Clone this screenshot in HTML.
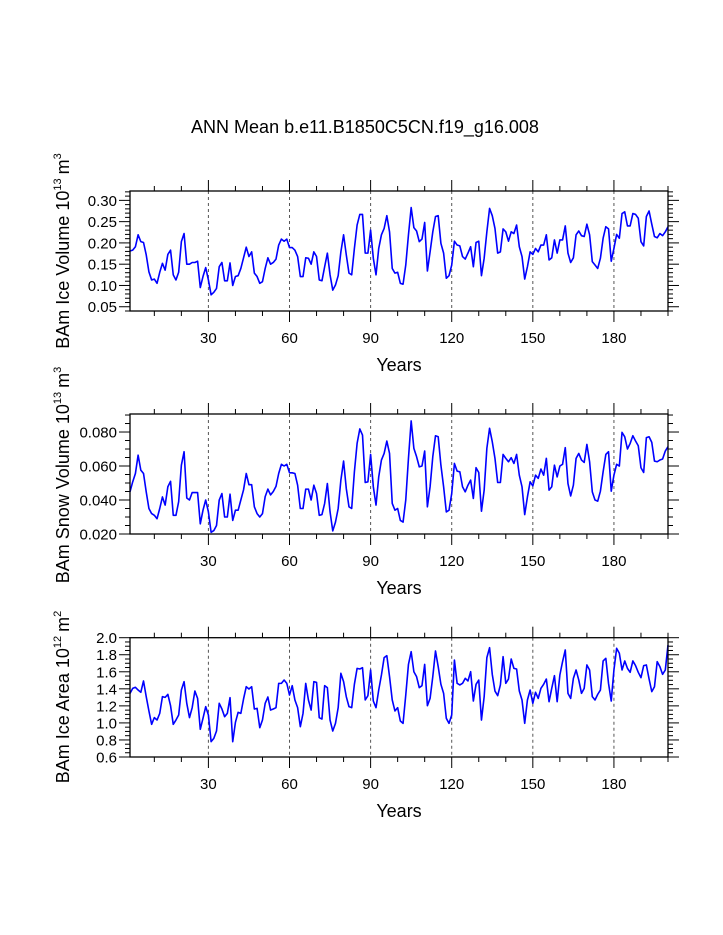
<!DOCTYPE html>
<html><head><meta charset="utf-8">
<style>
html,body{margin:0;padding:0;background:#fff;}
svg{display:block;font-family:"Liberation Sans",Arial,sans-serif;}
</style></head>
<body>
<svg id="chart" width="723" height="935" viewBox="0 0 723 935" xmlns="http://www.w3.org/2000/svg">
<text x="365" y="133" font-size="18" text-anchor="middle">ANN Mean b.e11.B1850C5CN.f19_g16.008</text>
</svg>
<script>
const years = Array.from({length:200},(_,i)=>i+1);
const xTickLabels = [30,60,90,120,150,180];
const iceVolume = [0.181,0.183,0.191,0.219,0.203,0.201,0.172,0.132,0.113,0.115,0.105,0.131,0.152,0.136,0.173,0.183,0.125,0.113,0.131,0.203,0.222,0.150,0.150,0.154,0.154,0.157,0.095,0.121,0.142,0.113,0.078,0.084,0.093,0.144,0.154,0.111,0.111,0.153,0.100,0.121,0.123,0.140,0.165,0.190,0.168,0.179,0.129,0.121,0.105,0.109,0.140,0.165,0.150,0.154,0.162,0.195,0.209,0.204,0.209,0.189,0.189,0.183,0.168,0.121,0.121,0.165,0.164,0.150,0.179,0.168,0.113,0.111,0.144,0.176,0.125,0.089,0.101,0.123,0.179,0.219,0.172,0.129,0.125,0.187,0.242,0.267,0.267,0.176,0.176,0.230,0.164,0.125,0.187,0.219,0.234,0.264,0.226,0.140,0.129,0.131,0.105,0.103,0.148,0.219,0.283,0.236,0.228,0.203,0.209,0.248,0.134,0.179,0.226,0.262,0.264,0.199,0.176,0.117,0.123,0.148,0.204,0.195,0.193,0.168,0.162,0.176,0.191,0.144,0.201,0.204,0.123,0.164,0.226,0.281,0.264,0.234,0.176,0.179,0.233,0.226,0.204,0.226,0.222,0.242,0.191,0.168,0.115,0.144,0.179,0.173,0.187,0.179,0.195,0.195,0.219,0.160,0.165,0.207,0.176,0.207,0.207,0.240,0.176,0.154,0.165,0.219,0.228,0.217,0.215,0.244,0.219,0.156,0.148,0.140,0.164,0.211,0.238,0.233,0.157,0.187,0.220,0.211,0.269,0.273,0.240,0.240,0.269,0.267,0.258,0.203,0.193,0.262,0.275,0.244,0.215,0.212,0.222,0.217,0.226,0.238];
const snowVolume = [0.0448,0.0507,0.0556,0.0664,0.0576,0.0556,0.0448,0.035,0.032,0.031,0.029,0.035,0.0418,0.037,0.0478,0.051,0.031,0.031,0.039,0.0605,0.0684,0.0412,0.040,0.0444,0.0444,0.0444,0.026,0.034,0.040,0.033,0.021,0.022,0.025,0.040,0.0438,0.030,0.030,0.0434,0.028,0.034,0.034,0.040,0.046,0.0556,0.049,0.049,0.036,0.032,0.030,0.032,0.042,0.0464,0.043,0.045,0.048,0.0556,0.061,0.060,0.061,0.056,0.056,0.0556,0.0487,0.035,0.035,0.0464,0.0464,0.040,0.0487,0.0438,0.031,0.0314,0.038,0.0497,0.033,0.0218,0.027,0.035,0.0517,0.0629,0.0468,0.036,0.035,0.0566,0.0733,0.0818,0.0782,0.0503,0.0507,0.0668,0.0478,0.037,0.0536,0.0635,0.0674,0.0747,0.0674,0.038,0.034,0.035,0.028,0.027,0.040,0.0645,0.0865,0.0704,0.0655,0.0595,0.060,0.0688,0.036,0.0478,0.0655,0.0778,0.0772,0.0605,0.0478,0.033,0.034,0.0438,0.0615,0.057,0.0566,0.0478,0.0448,0.0487,0.0517,0.0409,0.059,0.0562,0.0334,0.0458,0.0704,0.0822,0.0743,0.0645,0.0503,0.0503,0.0668,0.0645,0.0625,0.0649,0.0615,0.0668,0.0546,0.0478,0.0314,0.0418,0.0507,0.0483,0.0546,0.0527,0.0582,0.0546,0.0645,0.0458,0.0478,0.0605,0.0536,0.060,0.061,0.0708,0.0497,0.0424,0.0487,0.0645,0.0674,0.0635,0.0621,0.0727,0.0625,0.0448,0.040,0.0393,0.0452,0.0566,0.0668,0.0684,0.0452,0.0546,0.061,0.060,0.0798,0.0772,0.070,0.0733,0.0778,0.0747,0.0719,0.059,0.0562,0.0767,0.0772,0.0739,0.0629,0.0625,0.0635,0.0641,0.0688,0.0714];
const iceArea = [1.347,1.406,1.418,1.386,1.359,1.492,1.308,1.140,0.983,1.062,1.034,1.112,1.308,1.300,1.335,1.202,0.983,1.034,1.093,1.386,1.484,1.230,1.062,1.179,1.374,1.288,0.925,1.054,1.191,1.093,0.780,0.819,0.905,1.230,1.163,1.073,1.112,1.296,0.780,1.007,1.124,1.112,1.281,1.425,1.398,1.425,1.163,1.171,0.944,1.034,1.230,1.304,1.151,1.163,1.179,1.464,1.464,1.503,1.464,1.327,1.437,1.269,1.179,0.956,1.112,1.464,1.269,1.151,1.484,1.476,1.062,1.046,1.437,1.414,1.034,0.905,0.995,1.179,1.582,1.484,1.308,1.191,1.179,1.453,1.640,1.633,1.648,1.269,1.320,1.621,1.257,1.179,1.386,1.562,1.766,1.789,1.543,1.269,1.140,1.179,1.022,0.995,1.327,1.687,1.836,1.601,1.543,1.414,1.437,1.687,1.202,1.288,1.543,1.844,1.660,1.453,1.347,1.054,0.995,1.093,1.738,1.464,1.445,1.464,1.523,1.492,1.601,1.257,1.453,1.503,1.034,1.308,1.766,1.883,1.570,1.374,1.320,1.445,1.777,1.464,1.515,1.750,1.640,1.633,1.374,1.269,0.995,1.269,1.386,1.230,1.359,1.288,1.406,1.453,1.515,1.249,1.406,1.554,1.249,1.562,1.719,1.856,1.347,1.288,1.523,1.621,1.503,1.347,1.406,1.680,1.621,1.308,1.269,1.335,1.386,1.727,1.758,1.464,1.257,1.621,1.875,1.817,1.621,1.727,1.640,1.594,1.727,1.672,1.594,1.531,1.672,1.680,1.515,1.367,1.425,1.719,1.660,1.570,1.621,1.914];
const iceVolumeTicks = ["0.05","0.10","0.15","0.20","0.25","0.30"];
const snowVolumeTicks = ["0.020","0.040","0.060","0.080"];
const iceAreaTicks = ["0.6","0.8","1.0","1.2","1.4","1.6","1.8","2.0"];

const NS = "http://www.w3.org/2000/svg";
const svg = document.getElementById('chart');
const X0 = 130, X1 = 668, XMIN = 1, XMAX = 200;
function xScale(v){ return X0 + (v - XMIN) / (XMAX - XMIN) * (X1 - X0); }
function mk(tag, attrs, parent){
  const e = document.createElementNS(NS, tag);
  for (const k in attrs) e.setAttribute(k, attrs[k]);
  (parent || svg).appendChild(e);
  return e;
}

const panels = [
  {key:'ice-volume', top:191, bottom:311, ymin:0.040, ymax:0.322, major:0.05, minor:0.01, ticks:iceVolumeTicks, data:iceVolume, title:'BAm Ice Volume 10', exp:'13', unit:'m', uexp:'3', tcy:251},
  {key:'snow-volume', top:414, bottom:534, ymin:0.020, ymax:0.0906, major:0.02, minor:0.005, ticks:snowVolumeTicks, data:snowVolume, title:'BAm Snow Volume 10', exp:'13', unit:'m', uexp:'3', tcy:475},
  {key:'ice-area', top:637.7, bottom:757, ymin:0.6, ymax:2.0, major:0.2, minor:0.05, ticks:iceAreaTicks, data:iceArea, title:'BAm Ice Area 10', exp:'12', unit:'m', uexp:'2', tcy:697}
];

panels.forEach(p => {
  const g = mk('g', {});
  
  
  const yScale = v => p.bottom - (v - p.ymin) / (p.ymax - p.ymin) * (p.bottom - p.top);
  xTickLabels.forEach(t => {
    const l = mk('line', {x1:xScale(t), x2:xScale(t), y1:p.top, y2:p.bottom, stroke:'#555', 'stroke-width':1, 'stroke-dasharray':'3,3'}, g);
    
    
  });
  for (let t = 10; t <= 200; t += 10) {
    const big = t % 30 === 0;
    const len = big ? 11 : 5;
    const x = xScale(t);
    mk('line', {x1:x, x2:x, y1:p.top, y2:p.top-len, stroke:'#000', 'stroke-width':1}, g);
    mk('line', {x1:x, x2:x, y1:p.bottom, y2:p.bottom+len, stroke:'#000', 'stroke-width':1}, g);
  }
  const nMinor = Math.round((p.ymax - p.ymin) / p.minor) + 2;
  const start = Math.ceil(p.ymin / p.minor - 1e-6) * p.minor;
  for (let i = 0; i < nMinor; i++) {
    const v = start + i * p.minor;
    if (v > p.ymax + 1e-9) break;
    const isMajor = Math.abs(v / p.major - Math.round(v / p.major)) < 1e-6;
    const len = isMajor ? 11 : 5;
    const y = yScale(v);
    mk('line', {x1:X0, x2:X0-len, y1:y, y2:y, stroke:'#000', 'stroke-width':1}, g);
    mk('line', {x1:X1, x2:X1+len, y1:y, y2:y, stroke:'#000', 'stroke-width':1}, g);
  }
  p.ticks.forEach(lbl => {
    const tx = mk('text', {x:117, y:yScale(parseFloat(lbl))+5.5, 'font-size':15, 'text-anchor':'end'}, g);
    tx.textContent = lbl;
    
    
  });
  xTickLabels.forEach(t => {
    const tx = mk('text', {x:xScale(t), y:p.bottom+32, 'font-size':15, 'text-anchor':'middle'}, g);
    tx.textContent = t;
    
    
  });
  const xt = mk('text', {x:399, y:p.bottom+60, 'font-size':18, 'text-anchor':'middle'}, g);
  xt.textContent = 'Years';
  
  
  const yt = mk('text', {x:0, y:0, 'font-size':18, 'text-anchor':'middle', transform:'translate(69,'+p.tcy+') rotate(-90)'}, g);
  
  
  const s1 = mk('tspan', {}, yt); s1.textContent = p.title;
  const s2 = mk('tspan', {dy:-8, 'font-size':11}, yt); s2.textContent = p.exp;
  const s3 = mk('tspan', {dy:8, dx:4}, yt); s3.textContent = p.unit;
  const s4 = mk('tspan', {dy:-8, 'font-size':11}, yt); s4.textContent = p.uexp;
  const pts = p.data.map((v, i) => xScale(years[i]).toFixed(2) + ',' + yScale(v).toFixed(2)).join(' ');
  const line = mk('polyline', {points:pts, fill:'none', stroke:'#0000ff', 'stroke-width':1.6, 'stroke-linejoin':'round'}, g);
  
  
  const fr = mk('rect', {x:X0, y:p.top, width:X1-X0, height:p.bottom-p.top, fill:'none', stroke:'#000', 'stroke-width':1.3}, g);
  
  
});
</script>
</body></html>
